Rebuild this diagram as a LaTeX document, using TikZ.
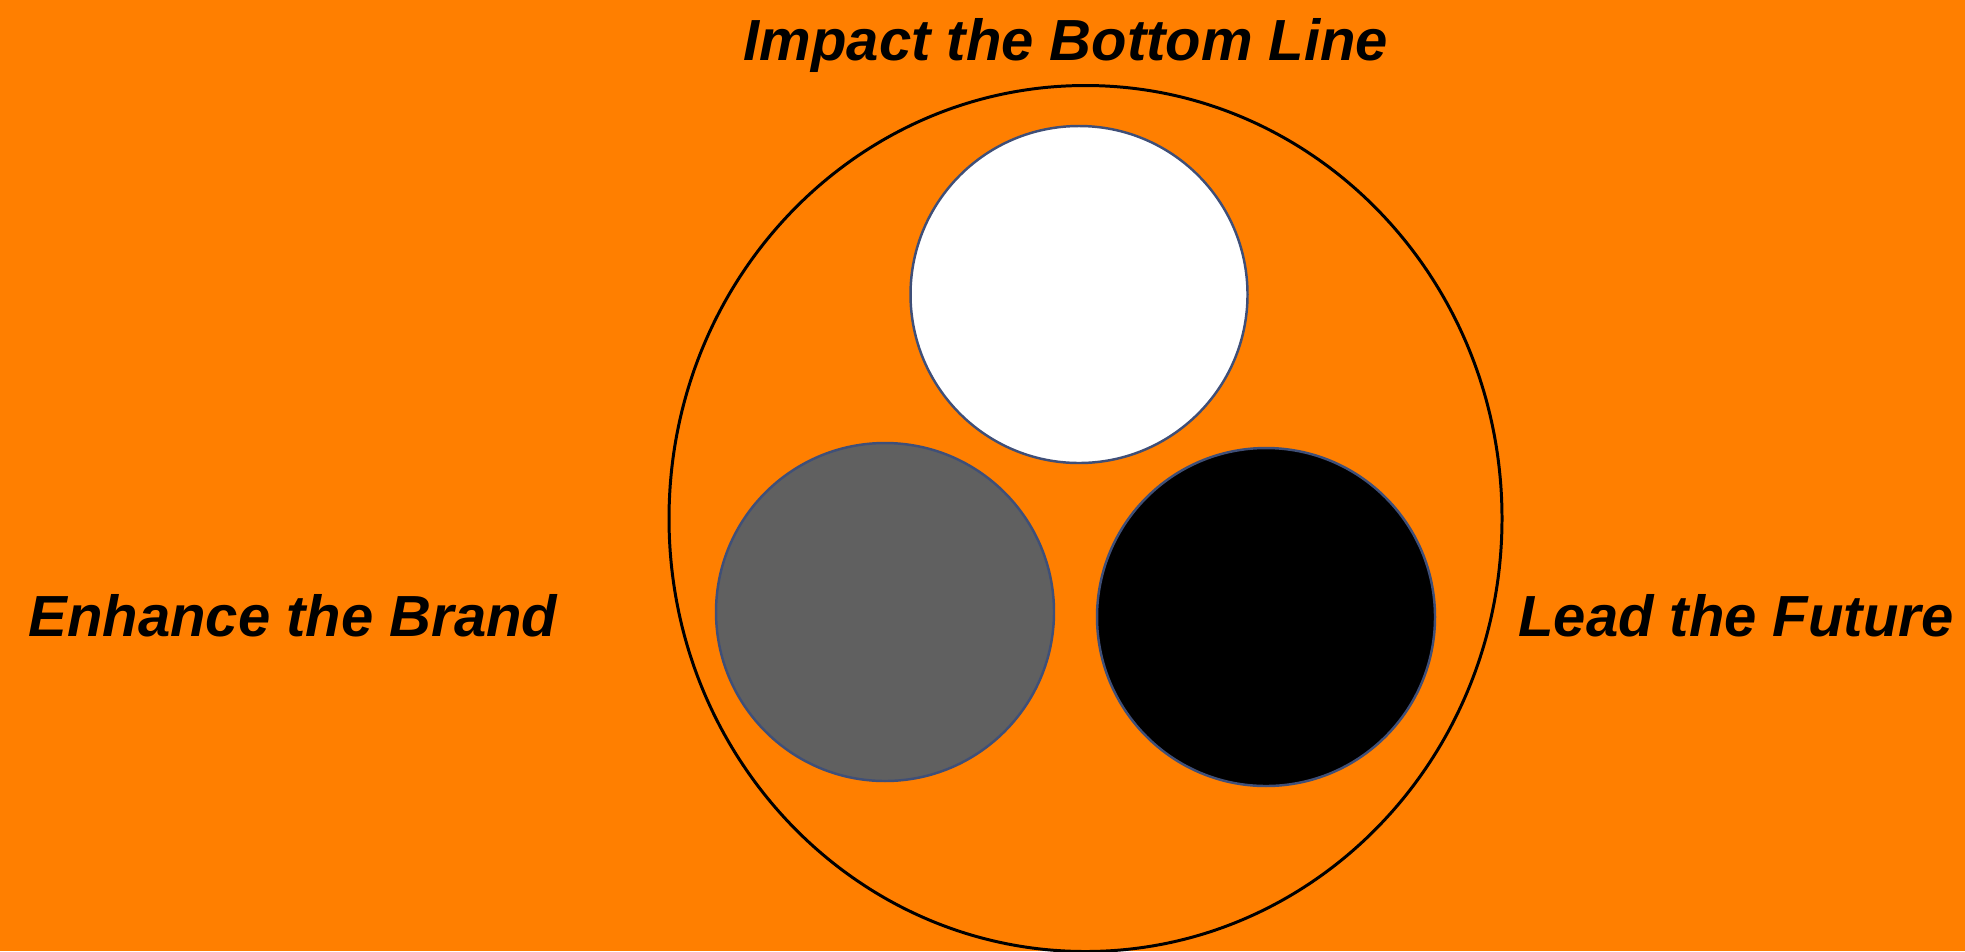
\documentclass[tikz,border=0pt]{standalone}
\usepackage{fontspec}
\setmainfont{Liberation Sans}
\definecolor{FigureOrange}{HTML}{FF7F00}
\definecolor{FigureGray}{HTML}{606060}
\definecolor{FigureEdge}{HTML}{3F4F78}

\begin{document}
\begin{tikzpicture}[x=.1mm,y=-.1mm,line cap=round,line join=round,
    lbl/.style={inner sep=0pt,font=\fontsize{16.5}{20}\selectfont\bfseries\itshape},
    disc/.style={draw=FigureEdge,line width=.7pt}]
  \useasboundingbox (0,0) rectangle (1965,951);
  \fill[FigureOrange] (0,0) rectangle (1965,951);
  \coordinate (O) at (1085.5,518.5);
  \coordinate (W) at (1079,294.5);\coordinate (G) at (885,612);\coordinate (K) at (1266,617);
  \draw[line width=.85pt] (O) ellipse [x radius=41.65mm,y radius=43.3mm];
  \filldraw[disc,fill=white] (W) circle [radius=16.85mm];
  \filldraw[disc,fill=FigureGray] (G) circle [radius=16.9mm];
  \filldraw[disc,fill=black] (K) circle [radius=16.9mm];
  \node[lbl,anchor=base] (impact) at (1066,60) {Impact the Bottom Line};
  \node[lbl,anchor=base west] (brand) at (28,636) {Enhance the Brand};
  \node[lbl,anchor=base east] (future) at (1954,636) {Lead the Future};
\end{tikzpicture}
\end{document}
